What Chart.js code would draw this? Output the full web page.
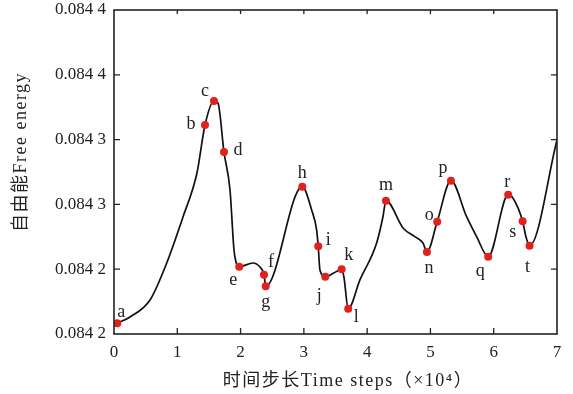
<!DOCTYPE html>
<html><head><meta charset="utf-8">
<script src="https://cdn.jsdelivr.net/npm/chart.js@4/dist/chart.umd.min.js"></script>
<style>html,body{margin:0;padding:0;background:#fff}</style>
</head><body>
<canvas id="c" width="573" height="394"></canvas>
<script>
// ---- data ----
const curveX = [0.052,0.253,0.569,0.833,1.090,1.311,1.438,1.580,1.643,1.738,1.833,1.896,1.927,1.979,2.196,2.306,2.370,2.397,2.975,3.123,3.202,3.227,3.254,3.338,3.465,3.597,3.633,3.701,3.886,4.150,4.250,4.297,4.570,4.755,4.882,4.945,5.107,5.324,5.572,5.730,5.913,6.229,6.303,6.457,6.509,6.567,7.0];
const curveY = [0.0842083,0.0842131,0.0842262,0.0842548,0.0842903,0.0843242,0.0843613,0.0843798,0.0843782,0.0843404,0.0843111,0.0842648,0.0842556,0.0842519,0.0842548,0.0842517,0.0842458,0.0842368,0.0843137,0.0842957,0.0842802,0.0842677,0.0842494,0.0842442,0.0842468,0.0842499,0.0842440,0.0842195,0.0842417,0.0842702,0.0842905,0.0843029,0.0842816,0.0842751,0.0842702,0.0842633,0.0842867,0.0843183,0.0842905,0.0842751,0.0842597,0.0843075,0.0843050,0.0842870,0.0842751,0.0842681,0.0843497];
const markNames = ['a','b','c','d','e','f','g','h','i','j','k','l','m','n','o','p','q','r','s','t'];
const markX = [0.052,1.438,1.580,1.738,1.979,2.370,2.397,2.975,3.227,3.338,3.597,3.701,4.297,4.945,5.107,5.324,5.913,6.229,6.457,6.567];
const markY = [0.0842083,0.0843613,0.0843798,0.0843404,0.0842519,0.0842458,0.0842368,0.0843137,0.0842677,0.0842442,0.0842499,0.0842195,0.0843029,0.0842633,0.0842867,0.0843183,0.0842597,0.0843075,0.0842870,0.0842681];
const xTickValues = [0,1,2,3,4,5,6,7];
const yTickValues = [0.08420,0.08425,0.08430,0.08435,0.08440,0.08445];
const yTickLabels = ['0.084 2','0.084 2','0.084 3','0.084 3','0.084 4','0.084 4'];
const xTitle = '时间步长Time steps（×10⁴）';
const yTitle = '自由能Free energy';

// ---- styling ----
const SERIF = '"Liberation Serif","Noto Sans CJK SC",serif';
const labelOffsets = {a:[4,-11],b:[-14,-1],c:[-9,-10],d:[14,-2],e:[-6,14],f:[7,-12],g:[0,16],h:[0,-13],i:[10,-6],j:[-6,20],k:[7,-14],l:[8,9],m:[0,-15],n:[2,16],o:[-8,-6],p:[-8,-12],q:[-8,15],r:[-1,-12],s:[-10,11],t:[-2,22]};

const spacingPlugin = {
  id: 'spacing',
  beforeInit(chart) { chart.ctx.letterSpacing = '1.5px'; }
};

const framePlugin = {
  id: 'frame',
  afterDraw(chart) {
    const {ctx, chartArea: a, scales: {x, y}} = chart;
    ctx.save();
    ctx.strokeStyle = '#222';
    ctx.lineWidth = 1.6;
    ctx.strokeRect(a.left, a.top, a.right - a.left, a.bottom - a.top);
    ctx.lineWidth = 1.3;
    ctx.beginPath();
    xTickValues.forEach(v => {
      if (v === x.min || v === x.max) return;
      const px = x.getPixelForValue(v);
      ctx.moveTo(px, a.bottom); ctx.lineTo(px, a.bottom - 6);
      ctx.moveTo(px, a.top); ctx.lineTo(px, a.top + 4);
    });
    yTickValues.forEach(v => {
      const py = y.getPixelForValue(v);
      if (Math.abs(py - a.top) < 1 || Math.abs(py - a.bottom) < 1) return;
      ctx.moveTo(a.left, py); ctx.lineTo(a.left + 6, py);
      ctx.moveTo(a.right, py); ctx.lineTo(a.right - 6, py);
    });
    ctx.stroke();
    // axis titles
    ctx.fillStyle = '#222';
    ctx.font = '18px ' + SERIF;
    ctx.letterSpacing = '1.5px';
    ctx.textAlign = 'center';
    ctx.textBaseline = 'middle';
    ctx.fillText(xTitle, 348, 381);
    ctx.translate(21, 152);
    ctx.rotate(-Math.PI / 2);
    ctx.fillText(yTitle, 0, 0);
    ctx.restore();
  }
};

const markLabelPlugin = {
  id: 'markLabels',
  afterDatasetsDraw(chart) {
    const {ctx, scales: {x, y}} = chart;
    ctx.save();
    ctx.fillStyle = '#222';
    ctx.font = '18px ' + SERIF;
    ctx.letterSpacing = '0px';
    ctx.textAlign = 'center';
    ctx.textBaseline = 'middle';
    markNames.forEach((n, i) => {
      const o = labelOffsets[n];
      ctx.fillText(n, x.getPixelForValue(markX[i]) + o[0], y.getPixelForValue(markY[i]) + o[1]);
    });
    ctx.restore();
  }
};

new Chart(document.getElementById('c'), {
  type: 'line',
  data: {
    datasets: [
      {
        data: markX.map((v, i) => ({x: v, y: markY[i]})),
        showLine: false,
        pointRadius: 4,
        pointBackgroundColor: '#e3211c',
        pointBorderColor: '#e3211c',
        pointBorderWidth: 0,
        order: 0
      },
      {
        data: curveX.map((v, i) => ({x: v, y: curveY[i]})),
        borderColor: '#111',
        borderWidth: 1.7,
        pointRadius: 0,
        cubicInterpolationMode: 'monotone',
        fill: false,
        order: 1
      }
    ]
  },
  options: {
    responsive: false,
    animation: false,
    layout: {padding: {top: 10, right: 16, left: 0, bottom: 0}},
    plugins: {legend: {display: false}, tooltip: {enabled: false}},
    scales: {
      x: {
        type: 'linear', min: 0, max: 7,
        afterBuildTicks: s => { s.ticks = xTickValues.map(v => ({value: v})); },
        afterFit: s => { s.height = 60; s.paddingLeft = 0; s.paddingRight = 0; },
        grid: {display: false, drawTicks: false},
        border: {display: false},
        ticks: {color: '#222', font: {family: SERIF, size: 17}, padding: 8, maxRotation: 0,
                callback: v => String(v)}
      },
      y: {
        type: 'linear', min: yTickValues[0], max: yTickValues[yTickValues.length - 1],
        afterBuildTicks: s => { s.ticks = yTickValues.map(v => ({value: v})); },
        afterFit: s => { s.width = 114; s.paddingTop = 0; s.paddingBottom = 0; },
        grid: {display: false, drawTicks: false},
        border: {display: false},
        ticks: {color: '#222', font: {family: SERIF, size: 17}, padding: 8,
                callback: (v, i) => yTickLabels[i]}
      }
    }
  },
  plugins: [spacingPlugin, framePlugin, markLabelPlugin]
});
</script>
</body></html>
